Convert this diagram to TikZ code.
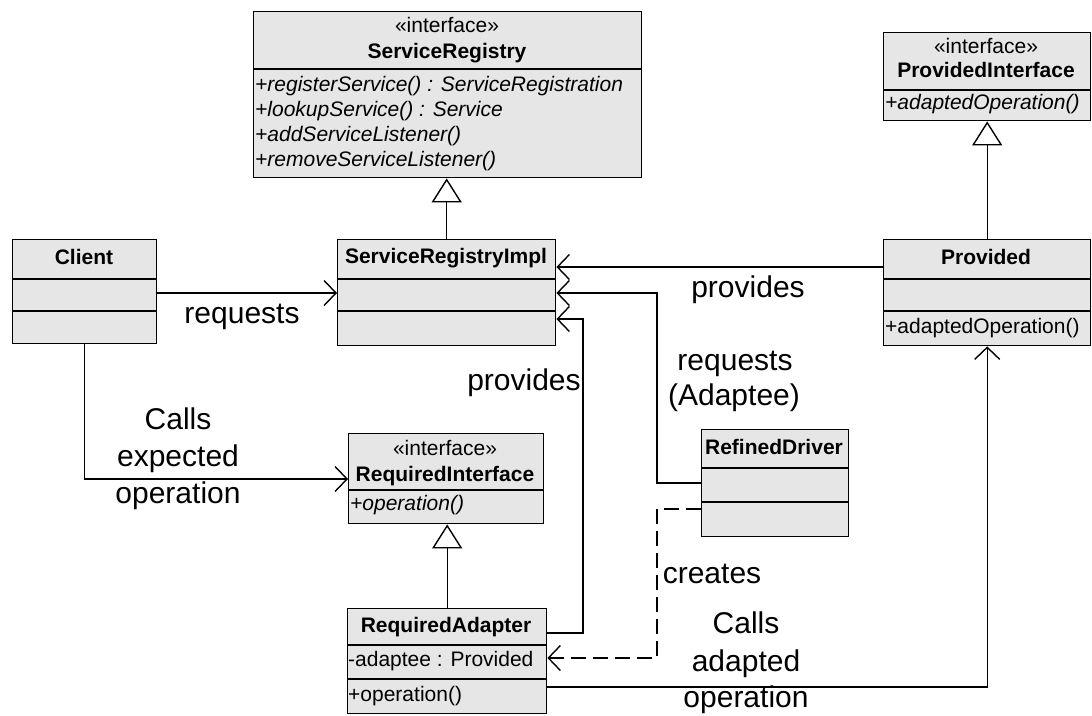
\documentclass[tikz,border=0pt]{standalone}
\usepackage{fontspec}
\setmainfont{Liberation Sans}
\usetikzlibrary{arrows.meta}
\definecolor{boxfill}{RGB}{230,230,230}
\begin{document}
\begin{tikzpicture}[x=1pt,y=-1pt,
  box/.style={draw=black, line width=1.4pt, fill=boxfill, anchor=north west, inner sep=0pt},
  sep/.style={line width=1.4pt},
  bt/.style={font=\fontsize{21}{24}\selectfont\bfseries, inner sep=0pt, anchor=base},
  st/.style={font=\fontsize{21}{24}\selectfont, inner sep=0pt, anchor=base},
  mt/.style={font=\fontsize{21}{24}\selectfont, inner sep=0pt, anchor=base west},
  it/.style={font=\fontsize{21}{24}\selectfont\itshape, inner sep=0pt, anchor=base west},
  lbl/.style={font=\fontsize{30}{38}\selectfont, inner sep=0pt, anchor=base},
  assoc/.style={draw, line width=1.4pt, -{Straight Barb[length=12pt,width=25pt,line width=1.4pt]}},
  gen/.style={draw, line width=1.4pt, -{Triangle[open,length=24pt,width=30pt,line width=1.4pt]}},
  dep/.style={assoc, dash pattern=on 15pt off 7pt},
]
\useasboundingbox (0,0) rectangle (1092,715);

% ServiceRegistry
\node[box, minimum width=388pt, minimum height=166pt] (sr) at (253,11) {};
\draw[sep] (253,69) -- (641,69);
\node[st] (sr1) at (447,32) {«interface»};
\node[bt] (sr2) at (447,58) {ServiceRegistry};
\node[it] (sr3) at (255,91) {+registerService() : ServiceRegistration};
\node[it] (sr4) at (255,116) {+lookupService() : Service};
\node[it] (sr5) at (255,141) {+addServiceListener()};
\node[it] (sr6) at (255,166) {+removeServiceListener()};

% ProvidedInterface
\node[box, minimum width=207pt, minimum height=88pt] (pi) at (883,32) {};
\draw[sep] (883,90) -- (1090,90);
\node[st] (pi1) at (986,53) {«interface»};
\node[bt] (pi2) at (986,77) {ProvidedInterface};
\node[it] (pi3) at (885,109) {+adaptedOperation()};

% Client
\node[box, minimum width=144pt, minimum height=104pt] (client) at (12,239) {};
\draw[sep] (12,279) -- (156,279);
\draw[sep] (12,311) -- (156,311);
\node[bt] (cl1) at (84,264) {Client};

% ServiceRegistryImpl
\node[box, minimum width=218pt, minimum height=106pt] (sri) at (337,239) {};
\draw[sep] (337,279) -- (555,279);
\draw[sep] (337,311) -- (555,311);
\node[bt] (sri1) at (446,263) {ServiceRegistryImpl};

% Provided
\node[box, minimum width=207pt, minimum height=106pt] (prov) at (883,239) {};
\draw[sep] (883,279) -- (1090,279);
\draw[sep] (883,311) -- (1090,311);
\node[bt] (pr1) at (986,264) {Provided};
\node[mt] (pr2) at (885,333) {+adaptedOperation()};

% RequiredInterface
\node[box, minimum width=195pt, minimum height=90pt] (ri) at (348,433) {};
\draw[sep] (348,490) -- (543,490);
\node[st] (ri1) at (445,455) {«interface»};
\node[bt] (ri2) at (445,481) {RequiredInterface};
\node[it] (ri3) at (350,510) {+operation()};

% RefinedDriver
\node[box, minimum width=147pt, minimum height=107pt] (rd) at (701,429) {};
\draw[sep] (701,468) -- (848,468);
\draw[sep] (701,502) -- (848,502);
\node[bt] (rd1) at (774,454) {RefinedDriver};

% RequiredAdapter
\node[box, minimum width=199pt, minimum height=105pt] (ra) at (347,608) {};
\draw[sep] (347,645) -- (546,645);
\draw[sep] (347,679) -- (546,679);
\node[bt] (ra1) at (446,632) {RequiredAdapter};
\node[mt] (ra2) at (348,666) {-adaptee : Provided};
\node[mt] (ra3) at (348,701) {+operation()};

% connectors
\draw[gen] (sri.north) -- (sri.north |- sr.south);
\draw[gen] (prov.north) -- (pi.south);
\draw[gen] (ra.north) -- (ra.north |- ri.south);

\draw[assoc] (client.east |- 0,293) -- (sri.west |- 0,293);
\draw[assoc] (prov.west |- 0,267) -- (sri.east |- 0,267);
\draw[assoc] (rd.west |- 0,483) -- (657,483) -- (657,293) -- (sri.east |- 0,293);
\draw[assoc] (ra.east |- 0,633) -- (583,633) -- (583,319) -- (sri.east |- 0,319);
\draw[assoc] (client.south) |- (ri.west |- 0,479);
\draw[dep] (rd.west |- 0,509) -- (657,509) -- (657,658) -- (ra.east |- 0,658);
\draw[assoc] (ra.east |- 0,687) -| (prov.south);

% labels
\node[lbl] (l1) at (242,323) {requests};
\node[lbl] (l2) at (748,297) {provides};
\node[lbl] (l3a) at (735,370) {requests};
\node[lbl] (l3b) at (734,405) {(Adaptee)};
\node[lbl] (l4) at (524,390) {provides};
\node[lbl] (l5a) at (178,429) {Calls};
\node[lbl] (l5b) at (178,466) {expected};
\node[lbl] (l5c) at (178,503) {operation};
\node[lbl] (l6) at (712,583) {creates};
\node[lbl] (l7a) at (746,633) {Calls};
\node[lbl] (l7b) at (746,671) {adapted};
\node[lbl] (l7c) at (746,707) {operation};
\end{tikzpicture}
\end{document}
